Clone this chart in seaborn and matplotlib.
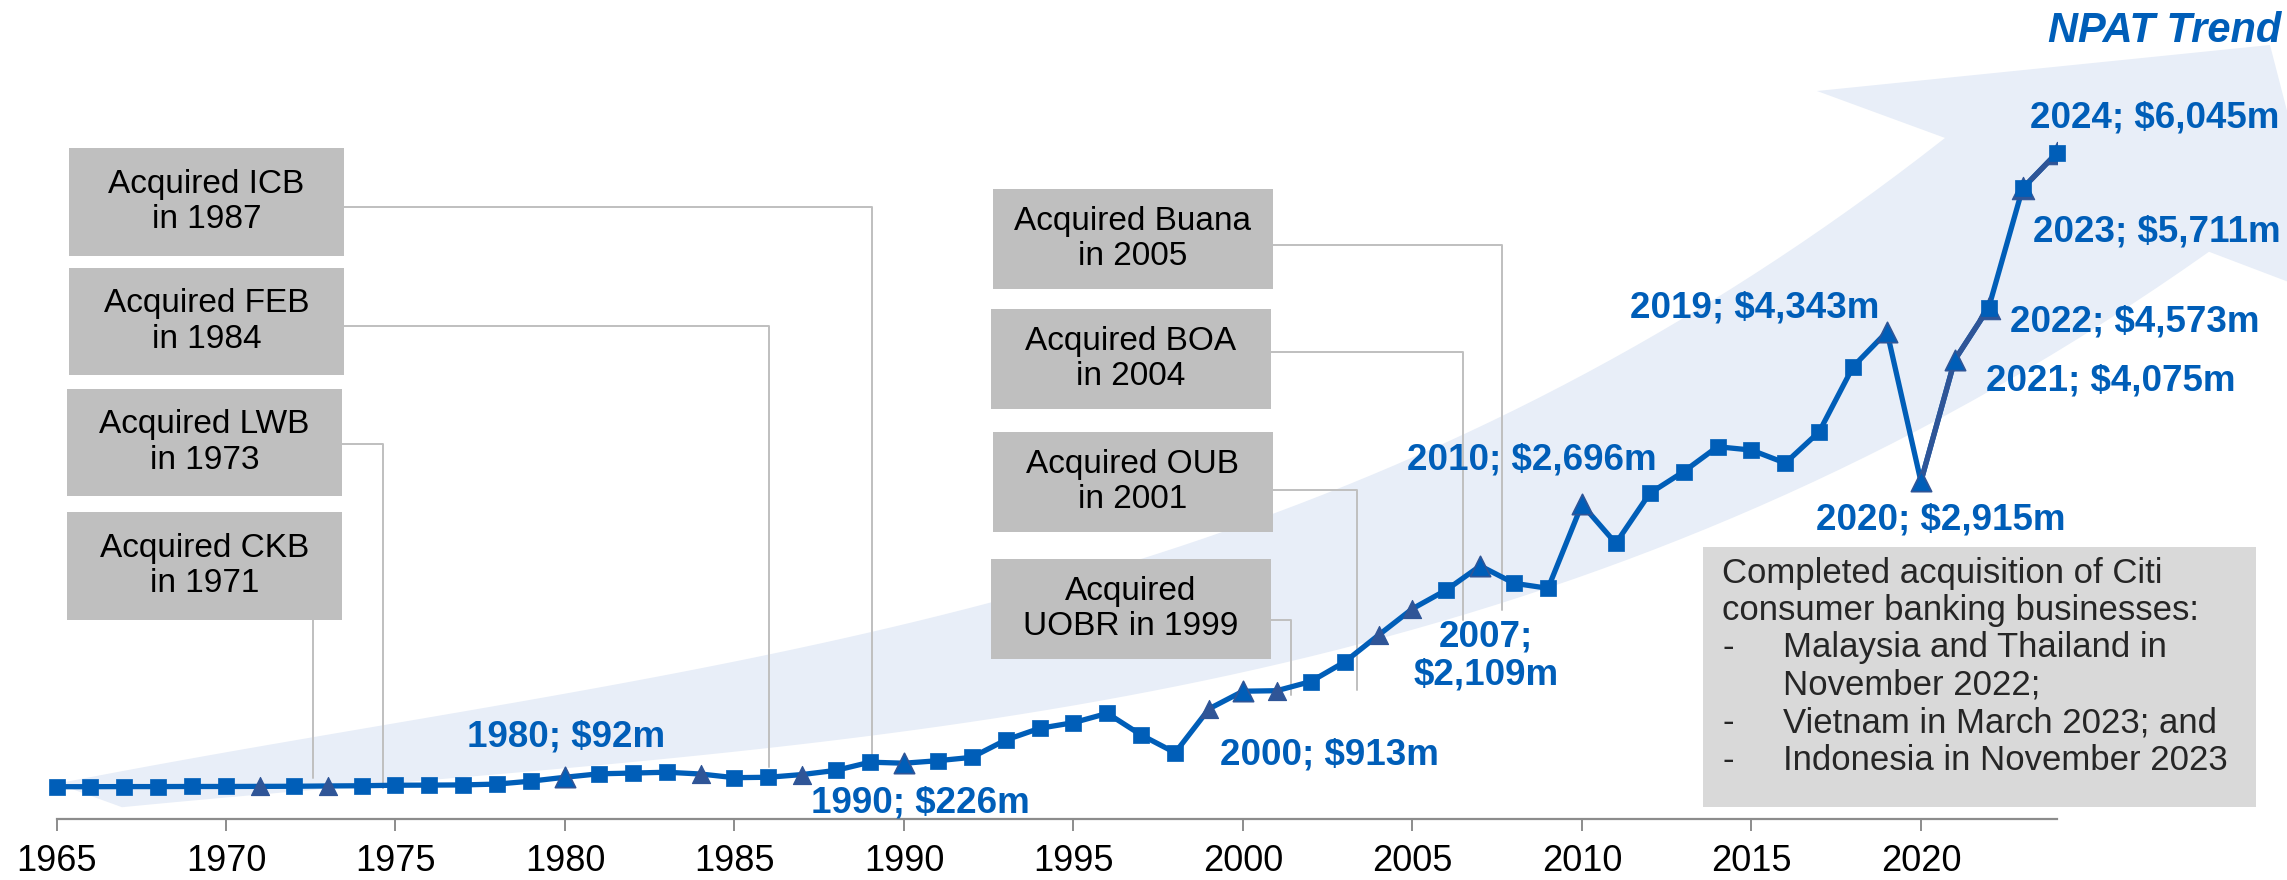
import numpy as np
import pandas as pd
import seaborn as sns
import matplotlib.pyplot as plt
import matplotlib.transforms as mtransforms
from matplotlib.patches import Polygon, Rectangle

# NPAT by year ($m)
years = list(range(1965, 2025))
npat = [2, 2, 3, 3, 4, 4, 5, 6, 9, 11,
        16, 17, 19, 27, 55, 92, 125, 132, 140, 123,
        88, 92, 118, 158, 236, 226, 250, 282, 447, 559,
        613, 702, 495, 326, 745, 913, 918, 1005, 1192, 1448,
        1700, 1879, 2109, 1943, 1895, 2696, 2324, 2801, 3008, 3246,
        3214, 3090, 3389, 4010, 4343, 2915, 4075, 4573, 5711, 6045]

acq_years = [1971, 1973, 1984, 1987, 1999, 2001, 2004, 2005]
label_years = [1980, 1990, 2000, 2007, 2010, 2019, 2020, 2021]
recent_years = [2022, 2023, 2024]
dark_runs = [[2020, 2021, 2022], [2023, 2024]]

# value labels: year, text, alignment, offset in pixels (x right, y up)
lab_years = [1980, 1990, 2000, 2007, 2010, 2019, 2020, 2021, 2022, 2023, 2024]
lab_text = ['1980; $92m', '1990; $226m', '2000; $913m', '2007;\n$2,109m',
            '2010; $2,696m', '2019; $4,343m', '2020; $2,915m', '2021; $4,075m',
            '2022; $4,573m', '2023; $5,711m', '2024; $6,045m']
lab_ha = ['center', 'center', 'center', 'center', 'center', 'right',
          'center', 'left', 'left', 'left', 'left']
lab_off = [(1, 40), (16, -40), (86, -64), (6, -90), (-50, 44), (-8, 24),
           (20, -39), (31, -21), (21, -14), (10, -44), (-27, 35)]

# acquisition callouts: text, box (pixels, top-left origin), connector path
box_text = ['Acquired ICB\nin 1987', 'Acquired FEB\nin 1984', 'Acquired LWB\nin 1973',
            'Acquired CKB\nin 1971', 'Acquired Buana\nin 2005', 'Acquired BOA\nin 2004',
            'Acquired OUB\nin 2001', 'Acquired\nUOBR in 1999']
box_px = [(69, 148, 344, 256), (69, 268, 344, 375), (67, 389, 342, 496),
          (67, 512, 342, 620), (993, 189, 1273, 289), (991, 309, 1271, 409),
          (993, 432, 1273, 532), (991, 559, 1271, 659)]
conn_px = [[(344, 207), (872, 207), (872, 763)],
           [(344, 326), (769, 326), (769, 767)],
           [(342, 444), (383, 444), (383, 788)],
           [(313, 620), (313, 778)],
           [(1273, 245), (1502, 245), (1502, 610)],
           [(1271, 352), (1463, 352), (1463, 620)],
           [(1273, 490), (1357, 490), (1357, 690)],
           [(1271, 620), (1291, 620), (1291, 695)]]

citi_lines = ['Completed acquisition of Citi', 'consumer banking businesses:',
              'Malaysia and Thailand in', 'November 2022;',
              'Vietnam in March 2023; and', 'Indonesia in November 2023']
citi_bullet = [False, False, True, False, True, True]
citi_indent = [False, False, True, True, True, True]

BLUE = '#005EB8'
DARK = '#2F5597'
W, H = 2287, 880

sns.set_style('white')
plt.rcParams['font.family'] = ['Liberation Sans', 'DejaVu Sans']

fig = plt.figure(figsize=(W / 100, H / 100), dpi=100)
ax = fig.add_axes([56.5 / W, (H - 818.5) / H, 2000 / W, 818.5 / H])
ax.patch.set_alpha(0)
ax.set_xlim(1965, 2024)
ax.set_ylim(-301.5, 7508.6)

# pixel coordinates, origin top-left
px = mtransforms.Affine2D().scale(1 / W, -1 / H).translate(0, 1) + fig.transFigure

# background trend arrow
up_x = [57, 600, 900, 1300, 1550, 1750, 1947]
up_y = [783, 690, 624, 500, 392, 283, 133]
lo_x = [122, 700, 1000, 1300, 1648, 1750, 2209]
lo_y = [807, 758, 711, 665, 550, 510, 252]
cu = np.polyfit(up_x, up_y, 3)
cl = np.polyfit(lo_x, lo_y, 3)
xu = np.linspace(57, 1945, 80)
xl = np.linspace(2209, 122, 80)
pts = ([(x, np.polyval(cu, x)) for x in xu]
       + [(1817, 91), (2270, 45), (2336, 300)]
       + [(x, np.polyval(cl, x)) for x in xl])
ax.add_patch(Polygon(pts, closed=True, transform=px, facecolor='#E8EEF8',
                     edgecolor='none', zorder=0, clip_on=False))

# callout connectors and boxes
for path in conn_px:
    xs, ys = zip(*path)
    ax.plot(xs, ys, color='#BFBFBF', lw=1.4, transform=px, zorder=1, clip_on=False)
for txt, (x0, y0, x1, y1) in zip(box_text, box_px):
    ax.add_patch(Rectangle((x0, y1), x1 - x0, y0 - y1, transform=px,
                           facecolor='#BFBFBF', edgecolor='none', zorder=2, clip_on=False))
    ax.text((x0 + x1) / 2, (y0 + y1) / 2, txt, transform=px, ha='center', va='center',
            fontsize=24, linespacing=1.2, color='black', zorder=3)

# Citi box
ax.add_patch(Rectangle((1703, 807), 553, -260, transform=px, facecolor='#D9D9D9',
                       edgecolor='none', zorder=2, clip_on=False))
for i, line in enumerate(citi_lines):
    y = 573 + i * 37.4
    if citi_bullet[i]:
        ax.text(1722, y, '-', transform=px, ha='left', va='center', fontsize=25, zorder=3)
    ax.text(1783 if citi_indent[i] else 1722, y, line, transform=px, ha='left',
            va='center', fontsize=25, zorder=3)

# NPAT line
df = pd.DataFrame({'year': years, 'npat': npat})
sns.lineplot(data=df, x='year', y='npat', color=BLUE, lw=3.8, ax=ax, zorder=4, clip_on=False)
for run in dark_runs:
    sub = df[df.year.isin(run)]
    sns.lineplot(data=sub, x='year', y='npat', color=DARK, lw=3.8, ax=ax, zorder=4)

sq = df[~df.year.isin(acq_years + label_years)]
rec = df[df.year.isin(recent_years)]
acq = df[df.year.isin(acq_years)]
lab = df[df.year.isin(label_years)]
sns.scatterplot(data=rec, x='year', y='npat', marker='^', s=260, color=DARK,
                edgecolor=DARK, linewidth=0.8, ax=ax, zorder=5)
sns.scatterplot(data=sq, x='year', y='npat', marker='s', s=118, color=BLUE,
                edgecolor=BLUE, linewidth=0.5, ax=ax, zorder=6, clip_on=False)
sns.scatterplot(data=acq, x='year', y='npat', marker='^', s=170, color=DARK,
                edgecolor=DARK, linewidth=0.8, ax=ax, zorder=6)
sns.scatterplot(data=lab, x='year', y='npat', marker='^', s=215, color=BLUE,
                edgecolor=DARK, linewidth=1.2, ax=ax, zorder=6)

# value labels
vals = dict(zip(years, npat))
for yr, txt, ha, (dx, dy) in zip(lab_years, lab_text, lab_ha, lab_off):
    ax.annotate(txt.replace('$', r'\$'), (yr, vals[yr]), xytext=(dx * 0.72, dy * 0.72),
                textcoords='offset points', ha=ha, va='center', fontsize=26.5,
                fontweight='bold', color=BLUE, linespacing=1.1, zorder=7,
                annotation_clip=False)

ax.text(2281, 31, 'NPAT Trend', transform=px, ha='right', va='center', fontsize=30,
        fontweight='bold', fontstyle='italic', color=BLUE, zorder=7)

# axes styling
ax.set_xticks(range(1965, 2021, 5))
ax.set_yticks([])
ax.set_xlabel('')
ax.set_ylabel('')
for s in ['left', 'top', 'right']:
    ax.spines[s].set_visible(False)
ax.spines['bottom'].set_color('#8C8C8C')
ax.spines['bottom'].set_linewidth(1.6)
ax.tick_params(axis='x', direction='out', length=8.6, width=1.4, color='#8C8C8C',
               labelsize=26, pad=10, labelcolor='black', bottom=True)

fig.savefig('out.png', dpi=100)
